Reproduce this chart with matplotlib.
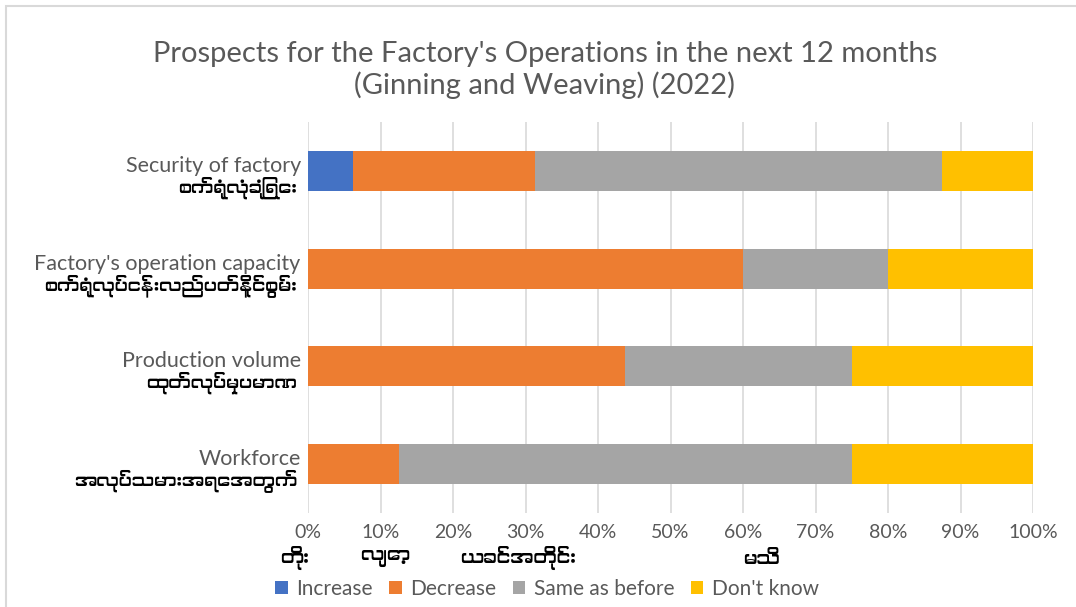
import matplotlib
matplotlib.use('Agg')
import matplotlib.pyplot as plt
import matplotlib.patches as mpatches
from matplotlib import font_manager
from matplotlib.ticker import PercentFormatter

# data (bottom to top)
categories_en = ['Workforce', 'Production volume', "Factory's operation capacity", 'Security of factory']
categories_my = ['အလုပ်သမားအရေအတွက်', 'ထုတ်လုပ်မှုပမာဏ', 'စက်ရုံလုပ်ငန်းလည်ပတ်နိုင်စွမ်း', 'စက်ရုံလုံခြုံရေး']
series_en = ['Increase', 'Decrease', 'Same as before', "Don't know"]
series_my = ['တိုး', 'လျော့', 'ယခင်အတိုင်း', 'မသိ']
increase = [0, 0, 0, 6.25]
decrease = [12.5, 43.75, 60, 25]
same = [62.5, 31.25, 20, 56.25]
dont_know = [25, 25, 20, 12.5]
colors = ['#4472C4', '#ED7D31', '#A5A5A5', '#FFC000']

# use a Myanmar font if one happens to be installed
fams = ['Lato', 'DejaVu Sans']
for f in font_manager.fontManager.ttflist:
    if 'Myanmar' in f.name or 'Padauk' in f.name:
        fams.insert(1, f.name)
        break
plt.rcParams['font.family'] = fams

fig = plt.figure(figsize=(10.76, 6.07), dpi=100)
ax = fig.add_axes([308/1076, 1 - 513/607, 725/1076, 391/607])

# chart frame
fig.patches.append(mpatches.Rectangle((6/1076, -0.1), 1.2, 1 - 6/607 + 0.1, transform=fig.transFigure,
                                      facecolor='none', edgecolor='#d9d9d9', linewidth=1.5))

ypos = list(range(len(categories_en)))
left = [0] * len(ypos)
for vals, c, name in zip([increase, decrease, same, dont_know], colors, series_en):
    ax.barh(ypos, vals, left=left, height=0.41, color=c, label=name, zorder=3)
    left = [a + b for a, b in zip(left, vals)]

ax.set_xlim(0, 100)
ax.set_ylim(-0.5, 3.5)
ax.set_xticks(range(0, 101, 10))
ax.xaxis.set_major_formatter(PercentFormatter(decimals=0))
ax.grid(axis='x', color='#d9d9d9', linewidth=1.2, zorder=0)
for s in ax.spines.values():
    s.set_visible(False)
ax.tick_params(axis='x', length=0, pad=8, labelsize=14, labelcolor='#595959')
ax.set_yticks([])

# category labels (English over Myanmar)
trans = ax.get_yaxis_transform()
for y, en, my in zip(ypos, categories_en, categories_my):
    ax.text(-0.01, y + 0.05, en, transform=trans, ha='right', va='center', fontsize=15.5, color='#595959')
    ax.text(-0.015, y - 0.17, my, transform=trans, ha='right', va='center', fontsize=13, color='black')

fig.text(545/1076, 1 - 70/607, "Prospects for the Factory's Operations in the next 12 months\n(Ginning and Weaving) (2022)",
         ha='center', va='center', fontsize=21, color='#595959', linespacing=1.2)

# legend with Myanmar labels above
fig.legend(loc='center', bbox_to_anchor=(547/1076, 1 - 589/607), ncol=4, frameon=False, fontsize=15,
           handlelength=0.6, handleheight=0.6, handletextpad=0.4, columnspacing=0.8, labelcolor='#595959')
for xpx, t in zip([295, 385, 518, 762], series_my):
    fig.text(xpx/1076, 1 - 558/607, t, ha='center', va='center', fontsize=13.5, color='black')

fig.savefig('out.png', dpi=100)
